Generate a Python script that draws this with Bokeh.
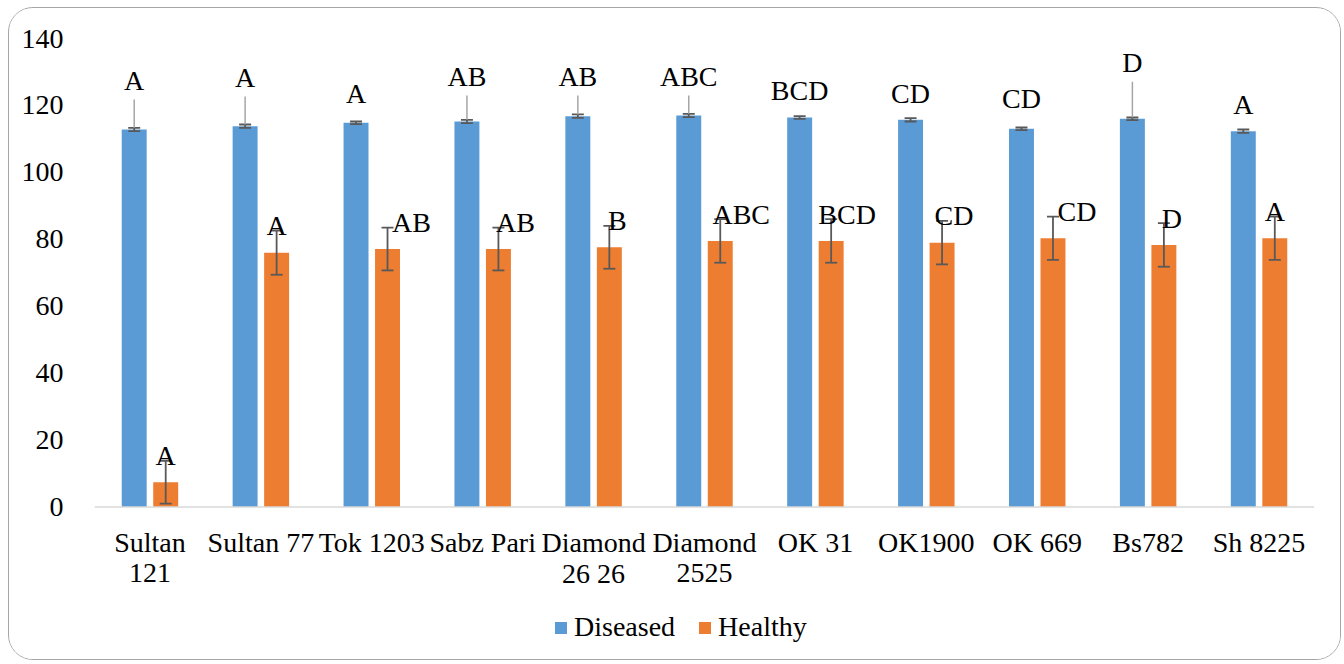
from bokeh.plotting import figure
from bokeh.models import (FactorRange, Range1d, Legend, LegendItem, ColumnDataSource,
                          FixedTicker, Span)
from bokeh.transform import dodge
from bokeh.core.properties import value
from bokeh.embed import file_html
from bokeh.resources import INLINE

# ---- data ----
categories = ["Sultan 121", "Sultan 77", "Tok 1203", "Sabz Pari", "Diamond 26 26",
              "Diamond 2525", "OK 31", "OK1900", "OK 669", "Bs782", "Sh 8225"]
diseased = [112.8, 113.8, 114.8, 115.2, 116.8, 117.0, 116.4, 115.7, 113.0, 116.0, 112.3]
diseased_err = [0.5, 0.5, 0.4, 0.5, 0.5, 0.5, 0.4, 0.5, 0.4, 0.4, 0.5]
healthy = [7.4, 76.0, 77.1, 77.1, 77.6, 79.5, 79.5, 79.0, 80.3, 78.3, 80.3]
healthy_err = [6.4, 6.6, 6.4, 6.4, 6.4, 6.5, 6.5, 6.5, 6.45, 6.5, 6.45]
diseased_letters = ["A", "A", "A", "AB", "AB", "ABC", "BCD", "CD", "CD", "D", "A"]
healthy_letters = ["A", "A", "AB", "AB", "B", "ABC", "BCD", "CD", "CD", "D", "A"]
y_ticks = [0, 20, 40, 60, 80, 100, 120, 140]
wrapped = {"Sultan 121", "Diamond 26 26", "Diamond 2525"}  # shown on two lines

# label anchors as moved by hand in the original (data units) and pixel nudges
diseased_label_at = [127.5, 128.4, 123.6, 128.7, 128.7, 128.7, 124.5, 123.6, 122.1, 132.8, 120.3]
healthy_label_dx = [0, 0, 24, 17, 8, 21, 16, 12, 24, 8, 0]

BLUE = "#5B9BD5"
ORANGE = "#ED7D31"
FONT = "Liberation Serif"
FS = "28px"
OFF = 0.142
BW = 0.225

line1, line2 = [], []
for c in categories:
    if c in wrapped:
        a, b = c.split(" ", 1)
        line1.append(a)
        line2.append(b)
    else:
        line1.append(c)
        line2.append("")

src = ColumnDataSource(dict(
    cat=categories,
    dis=diseased,
    dis_lo=[v - e for v, e in zip(diseased, diseased_err)],
    dis_hi=[v + e for v, e in zip(diseased, diseased_err)],
    hea=healthy,
    hea_lo=[v - e for v, e in zip(healthy, healthy_err)],
    hea_hi=[v + e for v, e in zip(healthy, healthy_err)],
    dlab=diseased_letters,
    hlab=healthy_letters,
    dlab_y=diseased_label_at,
    hlab_y=[v + e + 1.5 for v, e in zip(healthy, healthy_err)],
    hdx=healthy_label_dx,
    l1=line1,
    l2=line2,
    zero=[0] * len(categories),
))

lead_cat, lead_y0, lead_y1 = [], [], []
for c, v, e, ly in zip(categories, diseased, diseased_err, diseased_label_at):
    if ly - (v + e) > 10:
        lead_cat.append(c)
        lead_y0.append(v + e)
        lead_y1.append(ly - 5.7)
lead_src = ColumnDataSource(dict(cat=lead_cat, y0=lead_y0, y1=lead_y1))

# geometry: frame extends below the value axis so that the category labels and
# legend sit inside it; value 0 sits 468.5 px below 140
W, H = 1333, 653
TOP, BOT = 30, 8
frame_h = H - TOP - BOT
scale = 468.5 / 140.0
y_min = -(frame_h - 468.5) / scale

p = figure(width=W, height=H, output_backend="svg", toolbar_location=None,
           x_range=FactorRange(*categories, range_padding=0),
           y_range=Range1d(y_min, 140),
           min_border_left=85, min_border_right=28, min_border_top=TOP, min_border_bottom=BOT)
p.styles = {"border": "1.5px solid #A6A6A6", "border-radius": "25px", "overflow": "hidden",
            "margin-left": "8px", "margin-top": "7px"}
p.outline_line_color = None
p.xgrid.visible = False
p.ygrid.visible = False
p.xaxis.visible = False
p.background_fill_color = "white"
p.border_fill_color = "white"

xr = p.x_range
p.add_layout(Span(location=0, dimension="width", line_color="#D9D9D9", line_width=1.5))

bd = p.vbar(x=dodge("cat", -OFF, range=xr), top="dis", width=BW, source=src,
            fill_color=BLUE, line_color=None)
bh = p.vbar(x=dodge("cat", OFF, range=xr), top="hea", width=BW, source=src,
            fill_color=ORANGE, line_color=None)

EC = "#595959"
CAP = 0.054
p.segment(x0=dodge("cat", -OFF, range=xr), y0="dis_lo", x1=dodge("cat", -OFF, range=xr), y1="dis_hi",
          source=src, line_color=EC, line_width=1.8)
for col in ("dis_lo", "dis_hi"):
    p.segment(x0=dodge("cat", -OFF - CAP, range=xr), y0=col, x1=dodge("cat", -OFF + CAP, range=xr), y1=col,
              source=src, line_color=EC, line_width=1.8)
p.segment(x0=dodge("cat", OFF, range=xr), y0="hea_lo", x1=dodge("cat", OFF, range=xr), y1="hea_hi",
          source=src, line_color=EC, line_width=1.8)
for col in ("hea_lo", "hea_hi"):
    p.segment(x0=dodge("cat", OFF - CAP, range=xr), y0=col, x1=dodge("cat", OFF + CAP, range=xr), y1=col,
              source=src, line_color=EC, line_width=1.8)

p.segment(x0=dodge("cat", -OFF, range=xr), y0="y0", x1=dodge("cat", -OFF, range=xr), y1="y1",
          source=lead_src, line_color="#A6A6A6", line_width=1.5)

p.text(x=dodge("cat", -OFF, range=xr), y="dlab_y", text="dlab", source=src,
       text_font=value(FONT), text_font_size=FS, text_color="black",
       text_align="center", text_baseline="middle")
p.text(x=dodge("cat", OFF, range=xr), y="hlab_y", text="hlab", x_offset="hdx", source=src,
       text_font=value(FONT), text_font_size=FS, text_color="black",
       text_align="center", text_baseline="middle")

# category labels (two lines where wrapped), hung below the zero line
p.text(x="cat", y="zero", text="l1", y_offset=35, source=src,
       text_font=value(FONT), text_font_size=FS, text_color="black",
       text_align="center", text_baseline="middle")
p.text(x="cat", y="zero", text="l2", y_offset=66, source=src,
       text_font=value(FONT), text_font_size=FS, text_color="black",
       text_align="center", text_baseline="middle")

p.yaxis.ticker = FixedTicker(ticks=y_ticks)
p.yaxis.axis_line_color = None
p.yaxis.major_tick_line_color = None
p.yaxis.minor_tick_line_color = None
p.yaxis.major_label_text_font = FONT
p.yaxis.major_label_text_font_size = FS
p.yaxis.major_label_text_color = "black"
p.yaxis.major_label_standoff = 25

legend = Legend(items=[LegendItem(label="Diseased", renderers=[bd]),
                       LegendItem(label="Healthy", renderers=[bh])],
                orientation="horizontal", location=(459, 10),
                glyph_width=15, glyph_height=15, label_standoff=6, spacing=22,
                padding=0, margin=0, border_line_color=None, background_fill_alpha=0,
                label_text_font=FONT, label_text_font_size=FS, label_text_color="black",
                label_height=20)
p.add_layout(legend, "center")

open("out.html", "w").write(file_html(p, INLINE))
